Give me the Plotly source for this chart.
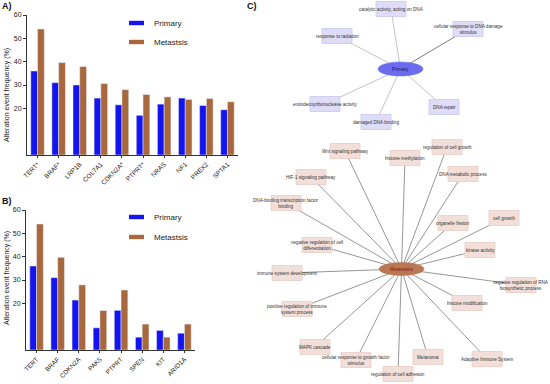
import plotly.graph_objects as go

# ---------------- data ----------------
genes_a = ["TERT*", "BRAF*", "LRP1B", "COL7A1", "CDKN2A*", "PTPRT*", "NRAS", "NF1", "PREX2", "SPTA1"]
primary_a = [36, 31, 30, 24.4, 21.5, 17, 21.8, 24.4, 21.2, 19.4]
metastasis_a = [54, 39.6, 37.9, 30.6, 28, 25.9, 24.9, 23.8, 24.2, 22.8]

genes_b = ["TERT", "BRAF", "CDKN2A", "PAK5", "PTPRT", "SPEN", "KIT", "ARID1A"]
primary_b = [36, 31, 21.4, 9.5, 17, 5.5, 8.4, 7.2]
metastasis_b = [54, 39.7, 27.9, 16.9, 25.7, 11.1, 5.5, 11.1]

y_ticks = [20, 30, 40, 50, 60]

# network (panel C): hub and neighbour nodes, layout positions of the graph
hub_names = ["Primary", "Metastasis"]
hub_x = [400.5, 401.5]
hub_y = [69, 269]

prim_nodes = ["catalytic activity, acting on DNA", "cellular response to DNA damage<br>stimulus",
              "response to radiation", "endodeoxyribonuclease activity",
              "damaged DNA binding", "DNA repair"]
prim_x = [391, 468, 337, 325, 376, 444]
prim_y = [9, 29, 36, 104, 122, 107]
prim_edge_colors = ["#bdbdbd", "#6e6e6e", "#bdbdbd", "#bdbdbd", "#bdbdbd", "#bdbdbd"]

met_nodes = ["Wnt signaling pathway", "histone methylation", "regulation of cell growth",
             "DNA metabolic process", "HIF-1 signaling pathway",
             "DNA-binding transcription factor<br>binding", "organelle fission", "cell growth",
             "negative regulation of cell<br>differentiation", "kinase activity",
             "immune system development", "negative regulation of RNA<br>biosynthetic process",
             "histone modification", "positive regulation of immune<br>system process",
             "MAPK cascade", "cellular response to growth factor<br>stimulus", "Melanoma",
             "regulation of cell adhesion", "Adaptive Immune System"]
met_x = [345, 405, 447, 463, 311, 286, 453, 504, 317, 480, 287, 521, 467, 297, 315, 356, 428, 398, 487]
met_y = [151, 158, 147, 174, 177, 203, 223, 218, 245, 250, 273, 285, 303, 309, 347, 360, 357, 374, 359]

# ---------------- style ----------------
W, H = 550, 384
BLUE = "#1414f0"
BROWN = "#a8673c"
FONT = "Liberation Sans, Arial, sans-serif"

def px_x(p):
    return p / W

def px_y(p):
    return 1 - p / H

fig = go.Figure()

fig.add_trace(go.Bar(x=genes_a, y=primary_a, marker_color=BLUE, name="Primary",
                     xaxis="x", yaxis="y", showlegend=False))
fig.add_trace(go.Bar(x=genes_a, y=metastasis_a, marker_color=BROWN, name="Metastsis",
                     xaxis="x", yaxis="y", showlegend=False))
fig.add_trace(go.Bar(x=genes_b, y=primary_b, marker_color=BLUE, name="Primary",
                     xaxis="x2", yaxis="y2", showlegend=False))
fig.add_trace(go.Bar(x=genes_b, y=metastasis_b, marker_color=BROWN, name="Metastsis",
                     xaxis="x2", yaxis="y2", showlegend=False))
# invisible trace to activate the network axes
fig.add_trace(go.Scatter(x=hub_x, y=hub_y, mode="markers", marker=dict(opacity=0),
                         xaxis="x3", yaxis="y3", showlegend=False, hoverinfo="skip"))

shapes = []
# edges
for x, y, c in zip(prim_x, prim_y, prim_edge_colors):
    shapes.append(dict(type="line", xref="x3", yref="y3", x0=hub_x[0], y0=hub_y[0], x1=x, y1=y,
                       line=dict(color=c, width=0.9)))
for x, y in zip(met_x, met_y):
    shapes.append(dict(type="line", xref="x3", yref="y3", x0=hub_x[1], y0=hub_y[1], x1=x, y1=y,
                       line=dict(color="#7c7c7c", width=0.8)))
BW, BH = 15, 7.5
for x, y in zip(prim_x, prim_y):
    shapes.append(dict(type="rect", xref="x3", yref="y3", x0=x - BW, x1=x + BW, y0=y - BH, y1=y + BH,
                       fillcolor="#dedcf7", line=dict(color="#c9c8ec", width=0.8)))
for x, y in zip(met_x, met_y):
    shapes.append(dict(type="rect", xref="x3", yref="y3", x0=x - BW, x1=x + BW, y0=y - BH, y1=y + BH,
                       fillcolor="#f2dfd9", line=dict(color="#e8cbc3", width=0.8)))
# hubs
shapes.append(dict(type="circle", xref="x3", yref="y3", x0=hub_x[0] - 22.5, x1=hub_x[0] + 22.5,
                   y0=hub_y[0] - 7, y1=hub_y[0] + 7, fillcolor="#6b6bef", line=dict(color="#6b6bef", width=0.5)))
shapes.append(dict(type="circle", xref="x3", yref="y3", x0=hub_x[1] - 22.5, x1=hub_x[1] + 22.5,
                   y0=hub_y[1] - 6.5, y1=hub_y[1] + 6.5, fillcolor="#b97753", line=dict(color="#b97753", width=0.5)))

# legends (drawn manually)
for (y_p, y_m) in [(23, 42), (217, 237)]:
    shapes.append(dict(type="rect", xref="paper", yref="paper", x0=px_x(129), x1=px_x(144),
                       y0=px_y(y_p + 2.2), y1=px_y(y_p - 2.2), fillcolor=BLUE, line=dict(width=0)))
    shapes.append(dict(type="rect", xref="paper", yref="paper", x0=px_x(129), x1=px_x(144),
                       y0=px_y(y_m + 2.2), y1=px_y(y_m - 2.2), fillcolor=BROWN, line=dict(width=0)))

annotations = []
for name, x, y in zip(prim_nodes + met_nodes, prim_x + met_x, prim_y + met_y):
    annotations.append(dict(text=name, x=x, y=y, xref="x3", yref="y3", showarrow=False,
                            xanchor="center", yanchor="middle",
                            font=dict(size=4.6, color="#333333", family=FONT)))
for name, x, y, c in zip(hub_names, hub_x, hub_y, ["#1a1a60", "#8b1a1a"]):
    annotations.append(dict(text=name, x=x, y=y, xref="x3", yref="y3", showarrow=False,
                            xanchor="center", yanchor="middle",
                            font=dict(size=4.8, color=c, family=FONT)))

for txt, x, y in [("A)", 0, 6), ("B)", 0, 201), ("C)", 245, 6)]:
    annotations.append(dict(text="<b>%s</b>" % txt, x=px_x(x), y=px_y(y), xref="paper", yref="paper",
                            xanchor="left", yanchor="middle", showarrow=False,
                            font=dict(size=9, color="#111", family=FONT)))
for (y_p, y_m) in [(23, 42), (217, 237)]:
    for txt, yy in [("Primary", y_p), ("Metastsis", y_m)]:
        annotations.append(dict(text=txt, x=px_x(152), y=px_y(yy), xref="paper", yref="paper",
                                xanchor="left", yanchor="middle", showarrow=False,
                                font=dict(size=8, color="#222", family=FONT)))
# axis titles
for yc in [95, 278]:
    annotations.append(dict(text="Alteration event frequency (%)", x=px_x(7), y=px_y(yc),
                            xref="paper", yref="paper", textangle=-90, showarrow=False,
                            xanchor="center", yanchor="middle",
                            font=dict(size=7, color="#222", family=FONT)))

yax = dict(range=[0, 60], tickvals=y_ticks, showline=True, linecolor="#333", linewidth=1,
           ticks="outside", ticklen=3, tickwidth=1, tickcolor="#333", showgrid=False, zeroline=False,
           tickfont=dict(size=7, color="#222", family=FONT), automargin=False)
xax = dict(showline=True, linecolor="#333", linewidth=1, ticks="outside", ticklen=2, tickwidth=1,
           tickcolor="#333", tickangle=-45, showgrid=False, automargin=False,
           tickfont=dict(size=6.5, color="#222", family=FONT))

fig.update_layout(
    width=W, height=H, margin=dict(l=0, r=0, t=0, b=0, pad=0), autosize=False,
    paper_bgcolor="white", plot_bgcolor="rgba(0,0,0,0)",
    barmode="group", bargap=0.36, bargroupgap=0,
    xaxis=dict(xax, domain=[px_x(27), px_x(238)], anchor="y"),
    yaxis=dict(yax, domain=[px_y(155), px_y(15)], anchor="x"),
    xaxis2=dict(xax, domain=[px_x(26), px_x(195)], anchor="y2"),
    yaxis2=dict(yax, domain=[px_y(350), px_y(210)], anchor="x2"),
    xaxis3=dict(domain=[px_x(240), 1], range=[240, 550], visible=False, anchor="y3", automargin=False),
    yaxis3=dict(domain=[0, 1], range=[384, 0], visible=False, anchor="x3", automargin=False),
    shapes=shapes, annotations=annotations,
    font=dict(family=FONT),
)

fig.write_html("out.html", config={"displayModeBar": False},
               post_script="document.body.style.margin='0';document.body.style.overflow='hidden';")
